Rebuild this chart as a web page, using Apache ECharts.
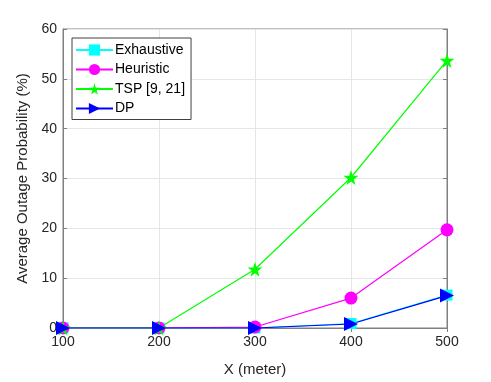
<!doctype html>
<html>
<head>
<meta charset="UTF-8">
<title>Average Outage Probability</title>
<script src="https://cdn.jsdelivr.net/npm/echarts@6/dist/echarts.min.js"></script>
<style>
  html, body { margin: 0; padding: 0; background: #fff; }
  #chart { width: 491px; height: 382px; }
</style>
</head>
<body>
<div id="chart"></div>
<script>
// data
var xValues = [100, 200, 300, 400, 500];
var exhaustive = [0, 0, 0, 0.9, 6.6];
var heuristic = [0, 0, 0.2, 6.0, 19.7];
var tsp = [0, 0, 11.8, 30.2, 53.7];
var dp = [0, 0, 0, 0.8, 6.5];

var starPath = 'path://M50,0 L61,35 L98,35 L68,57 L79,91 L50,70 L21,91 L32,57 L2,35 L39,35 Z';
var triPath = 'path://M0,0 L10,5 L0,10 Z';
var textColor = '#262626';
var axisColor = '#808080';

function pairs(arr) {
  return xValues.map(function (x, i) { return [x, arr[i]]; });
}

function lineSeries(name, data, color, symbol, size) {
  return {
    name: name,
    type: 'line',
    data: pairs(data),
    symbol: symbol,
    symbolSize: size,
    lineStyle: { color: color, width: 1.2 },
    itemStyle: { color: color },
    showAllSymbol: true,
    animation: false
  };
}

var chart = echarts.init(document.getElementById('chart'));
chart.setOption({
  backgroundColor: '#fff',
  grid: {
    left: 63, right: 44, top: 29, bottom: 53,
    show: true, borderColor: axisColor, borderWidth: 1
  },
  legend: {
    orient: 'vertical',
    left: 72, top: 38,
    backgroundColor: '#fff',
    borderColor: '#404040',
    borderWidth: 1,
    padding: [5, 6, 4, 3],
    itemWidth: 37,
    itemHeight: 14,
    itemGap: 5.5,
    textStyle: { fontFamily: 'Liberation Sans', fontSize: 14, color: '#000', padding: [0, 0, 0, -3] },
    data: ['Exhaustive', 'Heuristic', 'TSP [9, 21]', 'DP']
  },
  xAxis: [{
    type: 'value', min: 100, max: 500, interval: 100,
    name: 'X (meter)', nameLocation: 'middle', nameGap: 34,
    nameTextStyle: { fontFamily: 'Liberation Sans', fontSize: 15, color: textColor },
    axisLine: { lineStyle: { color: axisColor } },
    axisTick: { inside: true, length: 4, lineStyle: { color: axisColor } },
    axisLabel: { fontFamily: 'Liberation Sans', fontSize: 14, color: textColor, margin: 7 },
    splitLine: { show: true, lineStyle: { color: '#e6e6e6' } }
  }, {
    type: 'value', min: 100, max: 500, interval: 100, position: 'top',
    axisLine: { show: true, lineStyle: { color: axisColor } },
    axisTick: { inside: true, length: 4, lineStyle: { color: axisColor } },
    axisLabel: { show: false },
    splitLine: { show: false }
  }],
  yAxis: [{
    type: 'value', min: 0, max: 60, interval: 10,
    name: 'Average Outage Probability (%)', nameLocation: 'middle', nameGap: 32,
    nameTextStyle: { fontFamily: 'Liberation Sans', fontSize: 15, color: textColor },
    axisLine: { show: true, lineStyle: { color: axisColor } },
    axisTick: { show: true, inside: true, length: 4, lineStyle: { color: axisColor } },
    axisLabel: { fontFamily: 'Liberation Sans', fontSize: 14, color: textColor, margin: 6 },
    splitLine: { show: true, lineStyle: { color: '#e6e6e6' } }
  }, {
    type: 'value', min: 0, max: 60, interval: 10, position: 'right',
    axisLine: { show: true, lineStyle: { color: axisColor } },
    axisTick: { show: true, inside: true, length: 4, lineStyle: { color: axisColor } },
    axisLabel: { show: false },
    splitLine: { show: false }
  }],
  series: [
    lineSeries('Exhaustive', exhaustive, '#00ffff', 'rect', 11),
    lineSeries('Heuristic', heuristic, '#ff00ff', 'circle', 13),
    lineSeries('TSP [9, 21]', tsp, '#00ff00', starPath, 15),
    lineSeries('DP', dp, '#0000ff', triPath, 14)
  ]
});
</script>
</body>
</html>
